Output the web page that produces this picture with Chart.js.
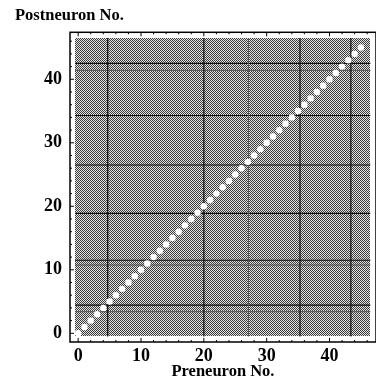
<!DOCTYPE html>
<html><head><meta charset="utf-8">
<style>html,body{margin:0;padding:0;background:#fff;overflow:hidden;width:376px;height:385px}</style>
<script src="https://cdn.jsdelivr.net/npm/chart.js@4"></script>
</head><body>
<canvas id="c" width="380" height="385" style="display:block;width:380px;height:385px"></canvas>
<script>
// neuron indices along the diagonal (self-connections shown white)
const diagonalNeurons = [0,1,2,3,4,5,6,7,8,9,10,11,12,13,14,15,16,17,18,19,20,21,22,23,24,25,26,27,28,29,30,31,32,33,34,35,36,37,38,39,40,41,42,43,44,45];
const matrixExtent = [-0.5, 46.5];
const xRange = [-1.3, 47.4];
const yRange = [-1.37, 47.4];
const xTicks = [0, 10, 20, 30, 40];
const yTicks = [0, 10, 20, 30, 40];
const minorTicks = [2,4,6,8,12,14,16,18,22,24,26,28,32,34,36,38,42,44,46];
// darker columns / rows in the connectivity matrix
const darkCols = [4.7, 20.0, 35.3, 43.4];
const faintCols = [27.1];
const darkRows = [42.5, 34.3, 26.5, 18.9, 11.5, 4.45];
const faintRows = [41.4, 10.75, 3.4];

const serif = "'Liberation Serif','Times New Roman',serif";

function makePattern(){
  const p = document.createElement('canvas');
  p.width = 2; p.height = 2;
  const g = p.getContext('2d');
  g.fillStyle = '#e4e4e4'; g.fillRect(0,0,2,2);
  g.fillStyle = '#3a3a3a'; g.fillRect(0,0,1,1); g.fillRect(1,1,1,1);
  return document.getElementById('c').getContext('2d').createPattern(p,'repeat');
}
const grayPattern = makePattern();

const datasets = [{
  type:'scatter',
  data: diagonalNeurons.map(n => ({x:n, y:n})),
  pointRadius: 3.2, pointBackgroundColor:'#fff', pointBorderWidth:0,
  order: 0
}];
function vLine(c, w, col){ return {type:'line', data:[{x:c,y:matrixExtent[0]},{x:c,y:matrixExtent[1]}], borderColor:col, borderWidth:w, pointRadius:0, order:1}; }
function hLine(r, w, col){ return {type:'line', data:[{x:matrixExtent[0],y:r},{x:matrixExtent[1],y:r}], borderColor:col, borderWidth:w, pointRadius:0, order:1}; }
darkCols.forEach(c => datasets.push(vLine(c, 1.2, '#111')));
faintCols.forEach(c => datasets.push(vLine(c, 1, '#555')));
darkRows.forEach(r => datasets.push(hLine(r, 1.2, '#111')));
faintRows.forEach(r => datasets.push(hLine(r, 1, '#555')));

const bgPlugin = {
  id:'matrixBg',
  beforeDatasetsDraw(chart){
    const {ctx, scales:{x,y}} = chart;
    const x0 = x.getPixelForValue(matrixExtent[0]), x1 = x.getPixelForValue(matrixExtent[1]);
    const y0 = y.getPixelForValue(matrixExtent[1]), y1 = y.getPixelForValue(matrixExtent[0]);
    ctx.save(); ctx.fillStyle = grayPattern;
    ctx.fillRect(Math.round(x0), Math.round(y0), Math.round(x1-x0), Math.round(y1-y0));
    ctx.restore();
  },
  afterDatasetsDraw(chart){
    const {ctx, chartArea:a, scales:{x,y}} = chart;
    ctx.save();
    ctx.strokeStyle = '#000'; ctx.lineWidth = 1.5;
    ctx.strokeRect(a.left, a.top, a.right-a.left, a.bottom-a.top);
    ctx.lineWidth = 1;
    const tick = (vals, len) => {
      vals.forEach(v => {
        const px = x.getPixelForValue(v), py = y.getPixelForValue(v);
        ctx.beginPath();
        ctx.moveTo(px, a.bottom); ctx.lineTo(px, a.bottom - len);
        ctx.moveTo(px, a.top); ctx.lineTo(px, a.top + len);
        ctx.moveTo(a.left, py); ctx.lineTo(a.left + len, py);
        ctx.stroke();
      });
    };
    tick(xTicks, 4); tick(minorTicks, 2);
    ctx.restore();
  }
};

new Chart(document.getElementById('c'), {
  data:{ datasets },
  plugins:[bgPlugin],
  options:{
    responsive:false, animation:false, devicePixelRatio:1,
    layout:{padding:{left:15, right:1.5, top:0, bottom:0}},
    plugins:{
      legend:{display:false}, tooltip:{enabled:false},
      title:{display:true, text:'Postneuron No.', align:'start', color:'#000',
        font:{family:serif, size:16.5, weight:'bold'}, padding:{top:6, bottom:6.5}}
    },
    scales:{
      x:{type:'linear', min:xRange[0], max:xRange[1],
        afterBuildTicks: s => { s.ticks = xTicks.map(v => ({value:v})); },
        afterFit: s => { s.height = 43; },
        grid:{display:false, drawTicks:false}, border:{display:false},
        ticks:{color:'#000', padding:4, maxRotation:0, font:{family:serif, size:18, weight:'bold'}},
        title:{display:true, text:'Preneuron No.', color:'#000', padding:{top:0,bottom:3},
          font:{family:serif, size:16.5, weight:'bold'}}
      },
      y:{type:'linear', min:yRange[0], max:yRange[1],
        afterBuildTicks: s => { s.ticks = yTicks.map(v => ({value:v})); },
        afterFit: s => { s.width = 55; },
        grid:{display:false, drawTicks:false}, border:{display:false},
        ticks:{color:'#000', padding:8, font:{family:serif, size:18, weight:'bold'}}
      }
    }
  }
});
</script>
</body></html>
